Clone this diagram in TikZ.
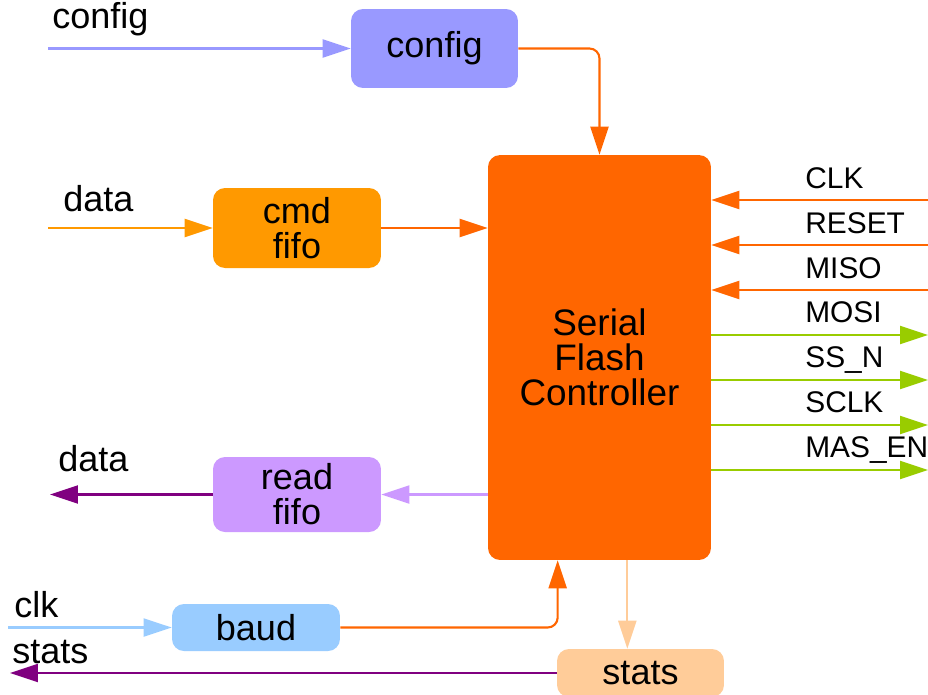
\documentclass[tikz,border=0pt]{standalone}
\usepackage{fontspec}
\setmainfont{Liberation Sans}
\usetikzlibrary{arrows.meta,calc}
\definecolor{cfgC}{HTML}{9999FF}
\definecolor{cmdC}{HTML}{FF9900}
\definecolor{sfcC}{HTML}{FF6600}
\definecolor{rdC}{HTML}{CC99FF}
\definecolor{baudC}{HTML}{99CCFF}
\definecolor{statC}{HTML}{FFCC99}
\definecolor{outC}{HTML}{800080}
\definecolor{spiC}{HTML}{99CC00}
\tikzset{
  blk/.style={rounded corners=0.24cm,align=center,inner sep=0pt,font=\fontsize{20.5}{20}\selectfont},
  lbl/.style={anchor=base west,inner sep=0pt,font=\fontsize{20.5}{24}\selectfont},
  pin/.style={anchor=base west,inner sep=0pt,font=\fontsize{17}{20}\selectfont},
  wire/.style={line width=1.2pt,-{Triangle[length=5.6mm,width=3.6mm]}},
}

\begin{document}
\begin{tikzpicture}[x=0.02cm,y=-0.02cm]
\fill[white] (0,0) rectangle (928,694);
\useasboundingbox (0,0) rectangle (928,694);
% blocks
\node[blk,fill=cfgC,minimum width=3.34cm,minimum height=1.58cm] (cfg) at (434.5,48.5) {config};
\node[blk,fill=cmdC,minimum width=3.36cm,minimum height=1.6cm] (cmd) at (297,228) {cmd\\fifo};
\node[blk,fill=sfcC,minimum width=4.46cm,minimum height=8.1cm,font=\fontsize{21}{20}\selectfont] (sfc) at (599.5,357.5) {Serial\\Flash\\Controller};
\node[blk,fill=rdC,minimum width=3.36cm,minimum height=1.5cm] (rd) at (297,494.5) {read\\fifo};
\node[blk,fill=baudC,minimum width=3.36cm,minimum height=0.94cm] (baud) at (256,627.5) {baud};
\node[blk,fill=statC,minimum width=3.34cm,minimum height=0.96cm] (stats) at (640.5,673) {stats};
% outside ports on the left
\coordinate (cfgin) at (48,48.5);
\coordinate (datain) at (48,228);
\coordinate (dataout) at (50,494.5);
\coordinate (clkin) at (8,627.5);
\coordinate (statsout) at (10,673);
\node[lbl] (tcfg) at (52,28) {config};
\node[lbl] (tdin) at (63,211) {data};
\node[lbl] (tdout) at (58,471) {data};
\node[lbl] (tclk) at (14,617) {clk};
\node[lbl] (tstats) at (12,663) {stats};
% connections
\draw[wire,cfgC] (cfgin) -- (cfg.west);
\draw[wire,sfcC,rounded corners=0.2cm] (cfg.east) -| (sfc.north);
\draw[wire,cmdC] (datain) -- (cmd.west);
\draw[wire,sfcC] (cmd.east) -- (sfc.west |- cmd.east);
\draw[wire,rdC] (sfc.west |- rd.east) -- (rd.east);
\draw[wire,outC] (rd.west) -- (dataout);
\draw[wire,baudC] (clkin) -- (baud.west);
\draw[wire,sfcC,rounded corners=0.2cm] (baud.east) -| ($(sfc.south west)+(70,0)$);
\coordinate (st) at ($(sfc.south east)+(-84,0)$);
\draw[wire,statC] (st) -- (st |- stats.north);
\draw[wire,outC] (stats.west) -- (statsout);
% spi side: inputs
\foreach \nm/\y in {CLK/200,RESET/245,MISO/290}{
  \coordinate (p\nm) at (928,\y);
  \node[pin] (t\nm) at (805,\y-12) {\nm};
  \draw[wire,sfcC] (p\nm) -- (p\nm -| sfc.east);
}
% spi side: outputs
\foreach \nm/\tx/\y in {mosi/MOSI/335,ssn/SS\_N/380,sclk/SCLK/425,masen/MAS\_EN/470}{
  \coordinate (p\nm) at (928,\y);
  \node[pin] (t\nm) at (805,\y-13) {\tx};
  \draw[wire,spiC] (p\nm -| sfc.east) -- (p\nm);
}
\end{tikzpicture}
\end{document}
